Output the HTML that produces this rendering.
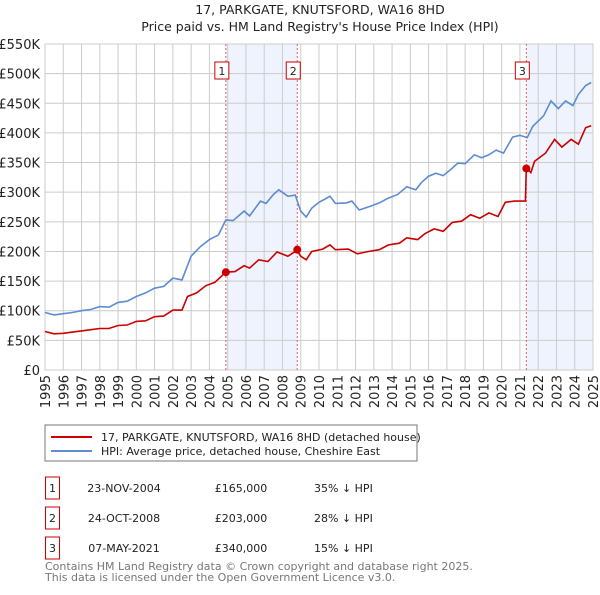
<!DOCTYPE html>
<html><head><meta charset="utf-8"><style>
body{margin:0;background:#fff;font-family:"Liberation Sans","DejaVu Sans",sans-serif;}
svg text{font-family:"DejaVu Sans","Liberation Sans",sans-serif;}
</style></head><body>
<svg id="c" width="600" height="590" xmlns="http://www.w3.org/2000/svg">
<text x="320" y="14" font-size="12.5" text-anchor="middle" fill="#222">17, PARKGATE, KNUTSFORD, WA16 8HD</text>
<text x="320" y="31" font-size="12.5" text-anchor="middle" fill="#222">Price paid vs. HM Land Registry's House Price Index (HPI)</text>
<g id="plot"></g>
<rect x="45" y="425" width="372" height="36" fill="#fff" stroke="#777"/>
<line x1="51" y1="437" x2="92" y2="437" stroke="#cc0000" stroke-width="2"/>
<text x="101" y="441" font-size="11" fill="#222">17, PARKGATE, KNUTSFORD, WA16 8HD (detached house)</text>
<line x1="51" y1="451" x2="92" y2="451" stroke="#5b8dd0" stroke-width="2"/>
<text x="101" y="455" font-size="11" fill="#222">HPI: Average price, detached house, Cheshire East</text>
<g id="tbl" font-size="11" fill="#222"></g>
<text x="45" y="570" font-size="11" fill="#777">Contains HM Land Registry data © Crown copyright and database right 2025.</text>
<text x="45" y="581" font-size="11" fill="#777">This data is licensed under the Open Government Licence v3.0.</text>
</svg>
<script>
const hpiYears=[1995,1995.5,1996,1996.5,1997,1997.5,1998,1998.5,1999,1999.5,2000,2000.5,2001,2001.5,2002,2002.5,2003,2003.5,2004,2004.5,2004.9,2005.3,2005.9,2006.2,2006.8,2007.1,2007.5,2007.8,2008.3,2008.7,2009,2009.3,2009.6,2010,2010.6,2010.9,2011.5,2011.8,2012.2,2012.8,2013.3,2013.8,2014.3,2014.8,2015.3,2015.6,2016,2016.4,2016.8,2017.2,2017.6,2018,2018.5,2018.9,2019.3,2019.7,2020.1,2020.6,2021,2021.4,2021.7,2022.3,2022.7,2023.1,2023.5,2023.9,2024.2,2024.6,2024.9];
const hpiValues=[97,93,95,97,100,102,107,106,114,116,124,130,138,141,155,152,192,208,220,228,253,252,268,260,285,281,296,304,293,295,268,258,273,283,293,281,282,285,270,276,282,290,296,309,304,316,327,332,328,338,349,348,363,358,363,371,366,393,396,392,411,429,454,441,454,446,465,480,485];
const priceYears=[1995,1995.5,1996,1996.5,1997,1997.5,1998,1998.5,1999,1999.5,2000,2000.5,2001,2001.5,2002,2002.5,2002.8,2003.3,2003.8,2004.3,2004.9,2005.4,2005.9,2006.2,2006.7,2007.2,2007.7,2008.3,2008.8,2009,2009.3,2009.6,2010.2,2010.6,2010.9,2011.6,2012.1,2012.7,2013.3,2013.8,2014.4,2014.8,2015.4,2015.8,2016.3,2016.8,2017.3,2017.8,2018.3,2018.8,2019.3,2019.8,2020.2,2020.7,2021.3,2021.35,2021.6,2021.8,2022.4,2022.9,2023.3,2023.8,2024.2,2024.6,2024.9];
const priceValues=[65,61,62,64,66,68,70,70,75,76,82,83,90,91,101,101,124,130,142,148,165,166,176,172,186,183,199,192,202,192,186,200,204,211,203,204,196,200,203,211,214,223,220,230,238,234,249,251,262,256,265,259,283,285,285,340,333,352,366,389,376,389,381,409,412];
const saleYears=[2004.9,2008.81,2021.35];
const saleValues=[165,203,340];
const saleLabels=["1","2","3"];
const saleDates=["23-NOV-2004","24-OCT-2008","07-MAY-2021"];
const salePrices=["£165,000","£203,000","£340,000"];
const saleDiffs=["35% ↓ HPI","28% ↓ HPI","15% ↓ HPI"];
const yTicks=[0,50,100,150,200,250,300,350,400,450,500,550];
const yTickLabels=["£0","£50K","£100K","£150K","£200K","£250K","£300K","£350K","£400K","£450K","£500K","£550K"];
const xTicks=[1995,1996,1997,1998,1999,2000,2001,2002,2003,2004,2005,2006,2007,2008,2009,2010,2011,2012,2013,2014,2015,2016,2017,2018,2019,2020,2021,2022,2023,2024,2025];

const L=45,R=593,T=44,B=370;
const xs=y=>L+(y-1995)/30*(R-L);
const ys=v=>B-v/550*(B-T);
const NS="http://www.w3.org/2000/svg";
const plot=document.getElementById('plot');
function mk(tag,attrs,parent){const e=document.createElementNS(NS,tag);for(const k in attrs)e.setAttribute(k,attrs[k]);(parent||plot).appendChild(e);return e;}

let r=mk('rect',{x:xs(saleYears[0]),y:T,width:xs(saleYears[1])-xs(saleYears[0]),height:B-T,fill:'#eef3fd'});


r=mk('rect',{x:xs(saleYears[2]),y:T,width:R-xs(saleYears[2]),height:B-T,fill:'#eef3fd'});



yTicks.forEach((v,i)=>{
 const g=mk('line',{x1:L,x2:R,y1:ys(v),y2:ys(v),stroke:'#ccc','stroke-width':1});
 
 
 const t=mk('text',{x:40,y:ys(v)+5,'font-size':13,'text-anchor':'end',fill:'#222'});
 t.textContent=yTickLabels[i];
 
 
});
xTicks.forEach(y=>{
 const g=mk('line',{x1:xs(y),x2:xs(y),y1:T,y2:B,stroke:'#ccc','stroke-width':1});
 
 
 const t=mk('text',{x:0,y:0,'font-size':13,'text-anchor':'end',fill:'#222',transform:`translate(${xs(y)+5},375) rotate(-90)`});
 t.textContent=y;
 
 
});
const border=mk('rect',{x:L,y:T,width:R-L,height:B-T,fill:'none',stroke:'#ccc'});



saleYears.forEach((y,i)=>{
 const l=mk('line',{x1:xs(y),x2:xs(y),y1:T,y2:B,stroke:'#e06060','stroke-dasharray':'2,2','stroke-width':1});
 
 
 const bx=mk('rect',{x:xs(y)-11,y:62,width:14,height:17,fill:'#fff',stroke:'#cc0000'});
 
 
 const t=mk('text',{x:xs(y)-4,y:75,'font-size':11,'text-anchor':'middle',fill:'#222'});
 t.textContent=saleLabels[i];
 
 
});

const hp=mk('path',{d:hpiYears.map((y,i)=>(i?'L':'M')+xs(y).toFixed(1)+','+ys(hpiValues[i]).toFixed(1)).join(''),fill:'none',stroke:'#5b8dd0','stroke-width':1.6});


const pp=mk('path',{d:priceYears.map((y,i)=>(i?'L':'M')+xs(y).toFixed(1)+','+ys(priceValues[i]).toFixed(1)).join(''),fill:'none',stroke:'#cc0000','stroke-width':1.6});


saleYears.forEach((y,i)=>{
 const c=mk('circle',{cx:xs(y),cy:ys(saleValues[i]),r:4,fill:'#cc0000'});
 
 
});

const tbl=document.getElementById('tbl');
saleLabels.forEach((lab,i)=>{
 const cy=488+i*30;
 const b=mk('rect',{x:45.5,y:cy-11,width:14,height:22,fill:'#fff',stroke:'#cc0000'},tbl);
 
 
 const vals=[[52.5,lab,'middle'],[124,saleDates[i],'middle'],[241,salePrices[i],'middle'],[314,saleDiffs[i],'start']];
 vals.forEach(v=>{
  const t=mk('text',{x:v[0],y:cy+4,'text-anchor':v[2]},tbl);
  t.textContent=v[1];
  
  
 });
});
</script>
</body></html>
